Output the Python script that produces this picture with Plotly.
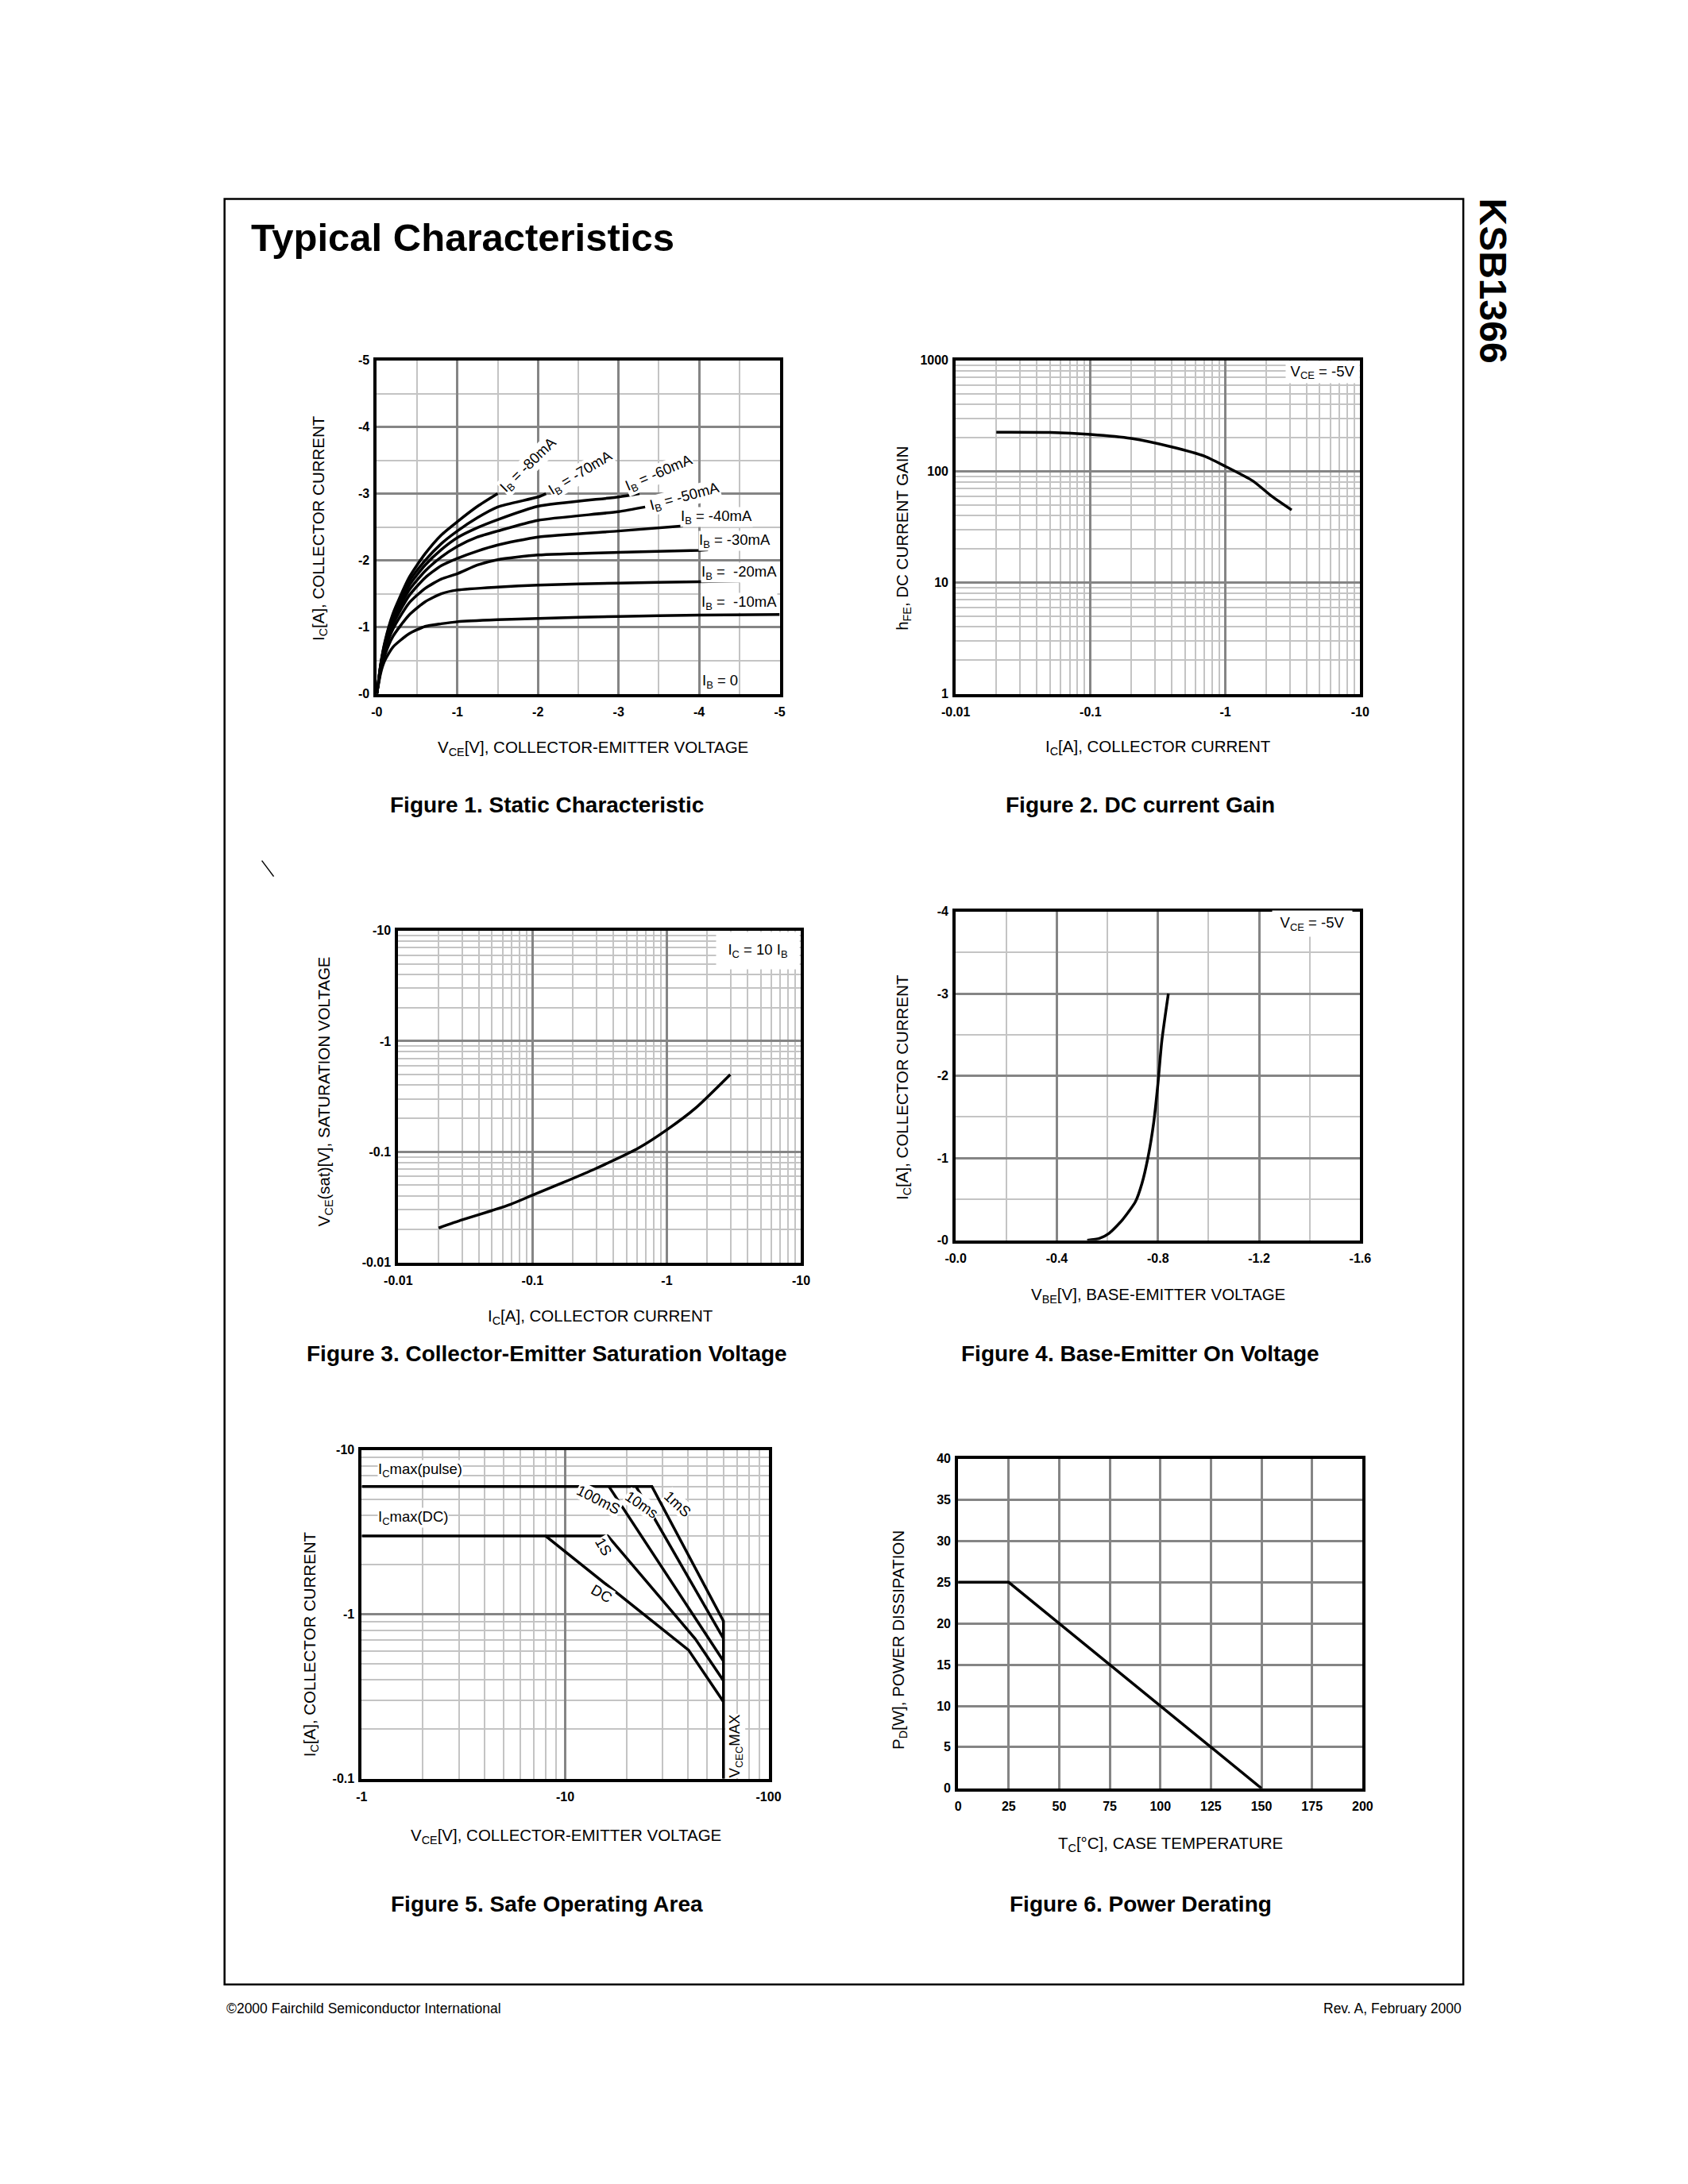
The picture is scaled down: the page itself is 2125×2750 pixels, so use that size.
import plotly.graph_objects as go

W, H = 2125, 2750

# ---------------- Figure 1: static characteristic (magnitudes; axis labels carry the sign)
IB80_V = [0, 0.05, 0.1, 0.2, 0.4, 0.6, 0.8, 1.0, 1.25, 1.5]
IB80_I = [0, 0.46, 0.78, 1.20, 1.74, 2.10, 2.38, 2.58, 2.81, 3.0]
IB70_V = [0, 0.05, 0.1, 0.2, 0.4, 0.6, 0.8, 1.0, 1.25, 1.5, 2.0, 2.1]
IB70_I = [0, 0.45, 0.76, 1.17, 1.68, 2.00, 2.25, 2.44, 2.64, 2.80, 2.95, 3.0]
IB60_V = [0, 0.05, 0.1, 0.2, 0.4, 0.6, 0.8, 1.0, 1.25, 1.5, 2.0, 3.0, 3.26]
IB60_I = [0, 0.44, 0.74, 1.13, 1.62, 1.93, 2.16, 2.34, 2.49, 2.61, 2.81, 2.95, 3.0]
IB50_V = [0, 0.05, 0.1, 0.2, 0.4, 0.6, 0.8, 1.0, 1.25, 1.5, 2.0, 3.0, 3.33]
IB50_I = [0, 0.43, 0.72, 1.09, 1.55, 1.84, 2.05, 2.21, 2.35, 2.44, 2.60, 2.73, 2.80]
IB40_V = [0, 0.05, 0.1, 0.2, 0.4, 0.6, 0.8, 1.0, 1.25, 1.5, 2.0, 3.0, 3.8]
IB40_I = [0, 0.41, 0.69, 1.04, 1.47, 1.74, 1.92, 2.03, 2.14, 2.23, 2.35, 2.44, 2.515]
IB30_V = [0, 0.05, 0.1, 0.2, 0.4, 0.6, 0.8, 1.0, 1.25, 1.5, 2.0, 3.0, 4.0, 4.11]
IB30_I = [0, 0.39, 0.65, 0.97, 1.36, 1.58, 1.72, 1.80, 1.93, 2.01, 2.08, 2.12, 2.15, 2.16]
IB20_V = [0, 0.05, 0.1, 0.2, 0.4, 0.6, 0.8, 1.0, 1.5, 2.0, 3.0, 4.0, 4.5]
IB20_I = [0, 0.36, 0.58, 0.86, 1.18, 1.38, 1.50, 1.556, 1.60, 1.63, 1.66, 1.68, 1.69]
IB10_V = [0, 0.05, 0.1, 0.2, 0.4, 0.6, 0.8, 1.0, 1.5, 2.0, 3.0, 4.0, 5.0]
IB10_I = [0, 0.32, 0.50, 0.70, 0.90, 1.01, 1.05, 1.08, 1.11, 1.13, 1.16, 1.18, 1.19]
F1_LABELS = ["I<sub>B</sub> = -80mA", "I<sub>B</sub> = -70mA", "I<sub>B</sub> = -60mA",
             "I<sub>B</sub> = -50mA", "I<sub>B</sub> = -40mA", "I<sub>B</sub> = -30mA",
             "I<sub>B</sub> =  -20mA", "I<sub>B</sub> =  -10mA", "I<sub>B</sub> = 0"]
F1_LABEL_V = [1.885, 2.53, 3.51, 3.82, 4.22, 4.44, 4.50, 4.50, 4.26]
F1_LABEL_I = [3.42, 3.31, 3.30, 2.95, 2.655, 2.29, 1.82, 1.37, 0.18]
F1_LABEL_ANG = [-44, -31, -23, -15, 0, 0, 0, 0, 0]
F1_TICKS = [0, 1, 2, 3, 4, 5]
F1_TICKTEXT = ["-0", "-1", "-2", "-3", "-4", "-5"]

# ---------------- Figure 2: DC current gain
F2_IC = [0.02, 0.05, 0.1, 0.2, 0.4, 0.7, 1.0, 1.6, 2.2, 3.1]
F2_HFE = [225, 224, 215, 198, 166, 137, 111, 82, 60, 45]
F2_XTICKS = [0.01, 0.1, 1, 10]
F2_XTEXT = ["-0.01", "-0.1", "-1", "-10"]
F2_YTICKS = [1, 10, 100, 1000]
F2_YTEXT = ["1", "10", "100", "1000"]

# ---------------- Figure 3: VCE(sat)
F3_IC = [0.02, 0.03, 0.05, 0.069, 0.1, 0.168, 0.297, 0.62, 1.0, 1.64, 2.97]
F3_VCE = [0.0205, 0.0243, 0.0295, 0.0336, 0.0406, 0.0526, 0.0708, 0.1087, 0.158, 0.249, 0.50]
F3_XTICKS = [0.01, 0.1, 1, 10]
F3_XTEXT = ["-0.01", "-0.1", "-1", "-10"]
F3_YTICKS = [0.01, 0.1, 1, 10]
F3_YTEXT = ["-0.01", "-0.1", "-1", "-10"]

# ---------------- Figure 4: base-emitter on voltage
F4_VBE = [0.52, 0.568, 0.607, 0.659, 0.711, 0.737, 0.760, 0.783, 0.800, 0.815, 0.841]
F4_IC = [0.0, 0.022, 0.086, 0.247, 0.47, 0.695, 1.0, 1.43, 1.91, 2.42, 3.0]
F4_XTICKS = [0, 0.4, 0.8, 1.2, 1.6]
F4_XTEXT = ["-0.0", "-0.4", "-0.8", "-1.2", "-1.6"]
F4_YTICKS = [0, 1, 2, 3, 4]
F4_YTEXT = ["-0", "-1", "-2", "-3", "-4"]

# ---------------- Figure 5: safe operating area
SOA_PULSE_V = [1, 26.7, 60, 60]
SOA_PULSE_I = [6, 6, 0.91, 0.1]
SOA_10MS_V = [22.3, 60]
SOA_10MS_I = [6, 0.713]
SOA_100MS_V = [16.4, 60]
SOA_100MS_I = [6, 0.52]
SOA_1S_V = [1, 16.2, 43.6, 60]
SOA_1S_I = [3, 3, 0.71, 0.395]
SOA_DC_V = [8.0, 40.4, 60]
SOA_DC_I = [3, 0.607, 0.294]
F5_XTICKS = [1, 10, 100]
F5_XTEXT = ["-1", "-10", "-100"]
F5_YTICKS = [0.1, 1, 10]
F5_YTEXT = ["-0.1", "-1", "-10"]

# ---------------- Figure 6: power derating
F6_TC = [0, 25, 150]
F6_PD = [25, 25, 0]
F6_XTICKS = [0, 25, 50, 75, 100, 125, 150, 175, 200]
F6_YTICKS = [0, 5, 10, 15, 20, 25, 30, 35, 40]

# ---------------- styling
SANS = "Liberation Sans, Arial, Helvetica, sans-serif"
MAJ = "#858585"
MIN = "#c4c4c4"
TICKFONT = dict(family=SANS, size=16, color="black", weight="bold")
LABFONT = dict(family=SANS, size=18.5, color="black")
TITFONT = dict(family=SANS, size=20.5, color="black")
CAPFONT = dict(family=SANS, size=28, color="black", weight="bold")

# page-pixel -> paper mapping (compensates the capture offset/scale seen on screen)
AX, BX = 0.9856, 15.9
AY, BY = 0.9937, 7.5


def px(xp):
    return ((xp - BX) / AX) / W


def py(yp):
    return 1 - ((yp - BY) / AY) / H


def log_minor(lo, hi):
    vals = []
    d = lo
    while d < hi:
        vals += [d * k for k in range(2, 10)]
        d *= 10
    return vals


def axis(dom, anchor, tickvals, ticktext, rng, minor_vals=None, log=False, minor=True, stand=3):
    a = dict(domain=dom, anchor=anchor, range=rng, tickmode="array",
             tickvals=tickvals, ticktext=ticktext, showgrid=True,
             gridcolor=MAJ, gridwidth=3, showline=True, mirror=True,
             linecolor="black", linewidth=4, zeroline=False, ticks="",
             tickfont=TICKFONT, ticklabelstandoff=stand, fixedrange=True)
    if log:
        a["type"] = "log"
    if minor and minor_vals:
        a["minor"] = dict(tickmode="array", tickvals=minor_vals, showgrid=True,
                          gridcolor=MIN, gridwidth=1.5, ticks="")
    return a


# plot boxes in page pixels (left, right, top, bottom)
B1 = (473, 981, 453, 873)
B2 = (1203, 1713, 453, 873)
B3 = (500, 1008, 1171, 1589)
B4 = (1203, 1713, 1147, 1561)
B5 = (454, 967, 1825, 2239)
B6 = (1206, 1716, 1836, 2251)


def xd(b):
    return [px(b[0]), px(b[1])]


def yd(b):
    return [py(b[3]), py(b[2])]


fig = go.Figure()
LINE = dict(color="black", width=3.5)


def add(x, y, ax, shape="linear"):
    line = dict(LINE, shape=shape)
    if shape == "spline":
        line["smoothing"] = 0.6
    fig.add_trace(go.Scatter(x=x, y=y, mode="lines", xaxis="x" + ax, yaxis="y" + ax,
                             line=line, showlegend=False, hoverinfo="skip"))


for v, i in [(IB10_V, IB10_I), (IB20_V, IB20_I), (IB30_V, IB30_I), (IB40_V, IB40_I),
             (IB50_V, IB50_I), (IB60_V, IB60_I), (IB70_V, IB70_I), (IB80_V, IB80_I)]:
    add(v, i, "", "spline")
add(F2_IC, F2_HFE, "2", "spline")
add(F3_IC, F3_VCE, "3", "spline")
add(F4_VBE, F4_IC, "4", "spline")
for v, i in [(SOA_PULSE_V, SOA_PULSE_I), (SOA_10MS_V, SOA_10MS_I), (SOA_100MS_V, SOA_100MS_I),
             (SOA_1S_V, SOA_1S_I), (SOA_DC_V, SOA_DC_I)]:
    add(v, i, "5")
add(F6_TC, F6_PD, "6")

XS, YS = 5, 2  # tick label standoffs (x below, y left)
layout = dict(
    width=W, height=H, autosize=False, margin=dict(l=0, r=0, t=0, b=0),
    paper_bgcolor="white", plot_bgcolor="white", showlegend=False,
    xaxis=axis(xd(B1), "y", F1_TICKS, F1_TICKTEXT, [0, 5], [k + 0.5 for k in range(5)], stand=XS),
    yaxis=axis(yd(B1), "x", F1_TICKS, F1_TICKTEXT, [0, 5], [k + 0.5 for k in range(5)], stand=YS),
    xaxis2=axis(xd(B2), "y2", F2_XTICKS, F2_XTEXT, [-2, 1], log_minor(0.01, 10), log=True, stand=XS),
    yaxis2=axis(yd(B2), "x2", F2_YTICKS, F2_YTEXT, [0, 3], log_minor(1, 1000), log=True, stand=YS),
    xaxis3=axis(xd(B3), "y3", F3_XTICKS, F3_XTEXT, [-2, 1], log_minor(0.01, 10), log=True, stand=XS),
    yaxis3=axis(yd(B3), "x3", F3_YTICKS, F3_YTEXT, [-2, 1], log_minor(0.01, 10), log=True, stand=YS),
    xaxis4=axis(xd(B4), "y4", F4_XTICKS, F4_XTEXT, [0, 1.6], [0.2, 0.6, 1.0, 1.4], stand=XS),
    yaxis4=axis(yd(B4), "x4", F4_YTICKS, F4_YTEXT, [0, 4], [0.5, 1.5, 2.5, 3.5], stand=YS),
    xaxis5=axis(xd(B5), "y5", F5_XTICKS, F5_XTEXT, [0, 2], log_minor(1, 100), log=True, stand=XS),
    yaxis5=axis(yd(B5), "x5", F5_YTICKS, F5_YTEXT, [-1, 1], log_minor(0.1, 10), log=True, stand=YS),
    xaxis6=axis(xd(B6), "y6", F6_XTICKS, [str(t) for t in F6_XTICKS], [0, 200], minor=False, stand=XS),
    yaxis6=axis(yd(B6), "x6", F6_YTICKS, [str(t) for t in F6_YTICKS], [0, 40], minor=False, stand=YS),
)
fig.update_layout(**layout)

ann = []


def page_text(text, x, y, font, xanchor="center", yanchor="middle", angle=0):
    ann.append(dict(text=text, x=px(x), y=py(y), xref="paper", yref="paper",
                    xanchor=xanchor, yanchor=yanchor, showarrow=False, font=font,
                    textangle=angle))


# page header / footer
page_text("Typical Characteristics", 312, 298, dict(family=SANS, size=49, color="black", weight="bold"),
          xanchor="left")
page_text("KSB1366", 1880, 353, dict(family=SANS, size=48, color="black", weight="bold"), angle=90)
page_text("©2000 Fairchild Semiconductor International", 281, 2528,
          dict(family=SANS, size=17.5, color="black"), xanchor="left")
page_text("Rev. A, February 2000", 1843, 2528, dict(family=SANS, size=17.5, color="black"), xanchor="right")

# axis titles
page_text("V<sub>CE</sub>[V], COLLECTOR-EMITTER VOLTAGE", 746, 941, TITFONT)
page_text("I<sub>C</sub>[A], COLLECTOR CURRENT", 400, 664, TITFONT, angle=-90)
page_text("I<sub>C</sub>[A], COLLECTOR CURRENT", 1458, 940, TITFONT)
page_text("h<sub>FE</sub>, DC CURRENT GAIN", 1136, 677, TITFONT, angle=-90)
page_text("I<sub>C</sub>[A], COLLECTOR CURRENT", 755, 1657, TITFONT)
page_text("V<sub>CE</sub>(sat)[V], SATURATION VOLTAGE", 407, 1373, TITFONT, angle=-90)
page_text("V<sub>BE</sub>[V], BASE-EMITTER VOLTAGE", 1458, 1630, TITFONT)
page_text("I<sub>C</sub>[A], COLLECTOR CURRENT", 1136, 1368, TITFONT, angle=-90)
page_text("V<sub>CE</sub>[V], COLLECTOR-EMITTER VOLTAGE", 712, 2311, TITFONT)
page_text("I<sub>C</sub>[A], COLLECTOR CURRENT", 389, 2069, TITFONT, angle=-90)
page_text("T<sub>C</sub>[°C], CASE TEMPERATURE", 1474, 2321, TITFONT)
page_text("P<sub>D</sub>[W], POWER DISSIPATION", 1131, 2064, TITFONT, angle=-90)

# captions
page_text("Figure 1. Static Characteristic", 687, 1013, CAPFONT)
page_text("Figure 2. DC current Gain", 1436, 1013, CAPFONT)
page_text("Figure 3. Collector-Emitter Saturation Voltage", 687, 1704, CAPFONT)
page_text("Figure 4. Base-Emitter On Voltage", 1436, 1704, CAPFONT)
page_text("Figure 5. Safe Operating Area", 687, 2397, CAPFONT)
page_text("Figure 6. Power Derating", 1436, 2397, CAPFONT)

# figure 1 curve labels
for t, v, i, a in zip(F1_LABELS, F1_LABEL_V, F1_LABEL_I, F1_LABEL_ANG):
    ann.append(dict(text=t, x=v, y=i, xref="x", yref="y", showarrow=False, font=LABFONT,
                    textangle=a, bgcolor="white", borderpad=0,
                    xanchor="center", yanchor="middle"))


def dom_text(text, ax, x, y, angle=0, xanchor="center", w=None, h=None):
    d = dict(text=text, x=x, y=y, xref="x%s domain" % ax, yref="y%s domain" % ax,
             showarrow=False, font=LABFONT, textangle=angle, xanchor=xanchor,
             yanchor="middle", bgcolor="white", borderpad=0)
    if w:
        d["width"] = w
    if h:
        d["height"] = h
    ann.append(d)


dom_text("V<sub>CE</sub> = -5V", "2", 0.907, 0.964, w=92, h=27)
dom_text("I<sub>C</sub> = 10 I<sub>B</sub>", "3", 0.892, 0.940, w=104, h=46)
dom_text("V<sub>CE</sub> = -5V", "4", 0.882, 0.962, w=100, h=32)
dom_text("I<sub>C</sub>max(pulse)", "5", 0.038, 0.939, xanchor="left")
dom_text("I<sub>C</sub>max(DC)", "5", 0.038, 0.794, xanchor="left")
dom_text("100mS", "5", 0.583, 0.848, angle=27)
dom_text("10ms", "5", 0.6875, 0.833, angle=34)
dom_text("1mS", "5", 0.776, 0.836, angle=43)
dom_text("1S", "5", 0.595, 0.707, angle=60)
dom_text("DC", "5", 0.589, 0.563, angle=30)
dom_text("V<sub>CEC</sub>MAX", "5", 0.919, 0.10, angle=-90)

fig.update_layout(annotations=ann)

# page frame and stray mark
fig.update_layout(shapes=[
    dict(type="rect", xref="paper", yref="paper", x0=px(281), x1=px(1843), y0=py(2498), y1=py(250),
         line=dict(color="black", width=2.5), fillcolor="rgba(0,0,0,0)", layer="above"),
    dict(type="line", xref="paper", yref="paper", x0=px(328), y0=py(1083), x1=px(343), y1=py(1103),
         line=dict(color="black", width=1.5)),
])

fig.write_html("out.html", config={"displayModeBar": False},
               post_script="document.body.style.margin='0';document.body.style.overflow='hidden';")
